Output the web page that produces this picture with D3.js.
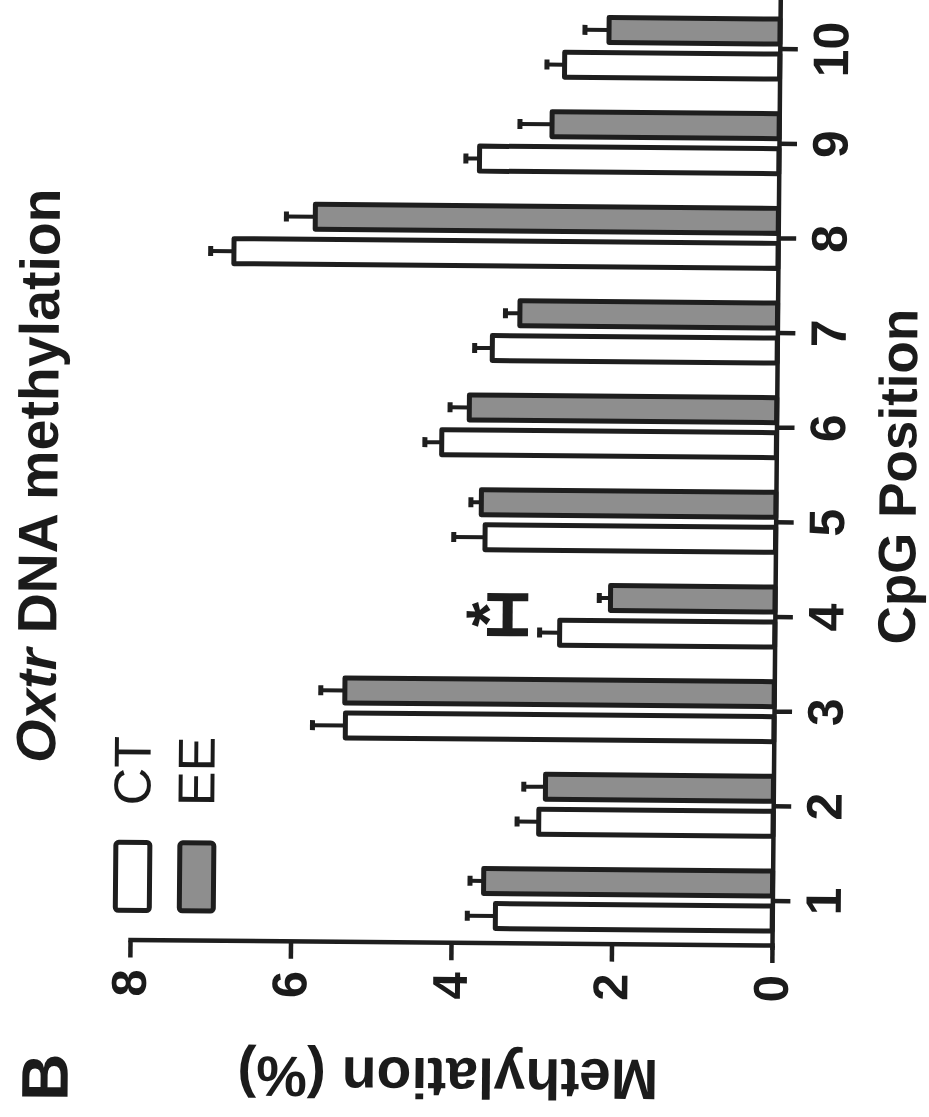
<!DOCTYPE html>
<html lang="en">
<meta charset="UTF-8">
<meta name="viewport" content="width=device-width,initial-scale=1">

<!-- Load d3.js -->
<script src="https://d3js.org/d3.v7.min.js"></script>

<head>
    <title>Oxtr DNA methylation</title>
    <style>
        body { margin: 0; background-color: white; }
        svg { display: block; }
        text { font-family: "Liberation Sans", Arial, Helvetica, sans-serif; fill: #1b1b1b; }
    </style>
</head>
<body>

<div id="my_dataviz"></div>

<script>
    // CpG positions on the category axis
    const positions = ["1", "2", "3", "4", "5", "6", "7", "8", "9", "10"];
    const groups = ["CT", "EE"];

    // methylation (%) mean and SEM
    const ctMean = [3.45, 2.92, 5.34, 2.68, 3.62, 4.17, 3.55, 6.78, 3.73, 2.68];
    const ctSem  = [0.35, 0.27, 0.41, 0.25, 0.39, 0.21, 0.22, 0.29, 0.17, 0.22];
    const eeMean = [3.60, 2.84, 5.35, 2.05, 3.67, 3.83, 3.21, 5.77, 2.83, 2.13];
    const eeSem  = [0.17, 0.27, 0.30, 0.14, 0.13, 0.24, 0.18, 0.36, 0.40, 0.30];

    const yTicks = [0, 2, 4, 6, 8];

    // significance mark: position and the level of the bracket
    const sigPositions = ["4"];
    const sigLevel = [3.33];

    const width = 929, height = 1117;

    const svg = d3.select("#my_dataviz")
    .append("svg")
        .attr("width", width)
        .attr("height", height);

    svg.append("rect").attr("width", width).attr("height", height).attr("fill", "white");

    // the panel is printed on its side (and the scan is a little skewed),
    // so the chart is drawn upright in "page" and turned by -90 degrees
    const page = svg.append("g")
        .attr("transform", "rotate(0.5,771,946)")
    .append("g")
        .attr("transform", `translate(0,${height}) rotate(-90)`);

    const ink = "#1e1e1e";

    // scales (page coords: 1117 wide, 929 tall)
    const x = d3.scaleBand()
        .domain(positions)
        .range([168.7, 1115.3]);

    const xSub = d3.scaleBand()
        .domain(groups)
        .range([-32.5, 32.5])
        .paddingInner(1 / 7);

    const y = d3.scaleLinear()
        .domain([0, 8])
        .range([772, 130]);

    const color = d3.scaleOrdinal()
        .domain(groups)
        .range(["#ffffff", "#8e8e8e"]);

    const rows = [];
    positions.forEach(function(p, i) {
        rows.push({pos: p, group: "CT", mean: ctMean[i], sem: ctSem[i]});
        rows.push({pos: p, group: "EE", mean: eeMean[i], sem: eeSem[i]});
    });

    const cx = d => x(d.pos) + x.bandwidth() / 2 + xSub(d.group) + xSub.bandwidth() / 2;

    // error bars (upper only)
    page.selectAll("line.stem")
    .data(rows)
    .join("line")
        .attr("class", "stem")
        .attr("x1", cx).attr("x2", cx)
        .attr("y1", d => y(d.mean))
        .attr("y2", d => y(d.mean + d.sem))
        .attr("stroke", ink)
        .attr("stroke-width", 4);

    page.selectAll("line.cap")
    .data(rows)
    .join("line")
        .attr("class", "cap")
        .attr("x1", d => cx(d) - 5).attr("x2", d => cx(d) + 5)
        .attr("y1", d => y(d.mean + d.sem))
        .attr("y2", d => y(d.mean + d.sem))
        .attr("stroke", ink)
        .attr("stroke-width", 5);

    // bars
    const sw = 5;
    page.selectAll("rect.bar")
    .data(rows)
    .join("rect")
        .attr("class", "bar")
        .attr("x", d => x(d.pos) + x.bandwidth() / 2 + xSub(d.group) + sw / 2)
        .attr("width", xSub.bandwidth() - sw)
        .attr("y", d => y(d.mean))
        .attr("height", d => y(0) - y(d.mean))
        .attr("fill", d => color(d.group))
        .attr("stroke", ink)
        .attr("stroke-width", sw)
        .attr("stroke-linejoin", "round");

    // axes
    const xAxis = page.append("g")
        .attr("transform", `translate(0,${y(0)})`)
        .call(d3.axisBottom(x).tickSize(18).tickSizeOuter(0).tickPadding(15));

    const yAxis = page.append("g")
        .attr("transform", "translate(171,0)")
        .call(d3.axisLeft(y).tickValues(yTicks).tickSize(17).tickSizeOuter(0).tickPadding(12));

    [xAxis, yAxis].forEach(function(a) {
        a.attr("font-family", null).attr("font-size", null);
        a.select(".domain").attr("stroke", ink).attr("stroke-width", 4.5).attr("stroke-linecap", "square");
        a.selectAll(".tick line").attr("stroke", ink).attr("stroke-width", 4.5);
        a.selectAll(".tick text")
            .style("font-size", "50px")
            .style("font-weight", "bold")
            .attr("fill", "#1b1b1b");
    });
    yAxis.selectAll(".tick text").style("font-size", "49px");

    // significance bracket and star
    sigPositions.forEach(function(p, i) {
        const a = x(p) + x.bandwidth() / 2 + xSub("CT") + xSub.bandwidth() / 2;
        const b = x(p) + x.bandwidth() / 2 + xSub("EE") + xSub.bandwidth() / 2;
        const s = y(sigLevel[i]);
        page.append("path")
            .attr("d", `M${a},${s - 20.5}V${s + 20.5}M${b},${s - 20.5}V${s + 20.5}`)
            .attr("stroke", ink).attr("stroke-width", 8).attr("fill", "none");
        page.append("line")
            .attr("x1", a).attr("x2", b)
            .attr("y1", s).attr("y2", s)
            .attr("stroke", ink).attr("stroke-width", 10);
        page.append("text")
            .attr("x", (a + b) / 2)
            .attr("y", s + 3)
            .attr("text-anchor", "middle")
            .style("font-size", "64px")
            .style("font-weight", "bold")
            .text("*");
    });

    // legend
    const legend = page.selectAll("g.legend")
    .data(groups)
    .join("g")
        .attr("class", "legend")
        .attr("transform", (d, i) => `translate(0,${i * 64})`);

    legend.append("rect")
        .attr("x", 201).attr("y", 115)
        .attr("width", 68).attr("height", 34)
        .attr("rx", 3)
        .attr("fill", d => color(d))
        .attr("stroke", ink)
        .attr("stroke-width", 5);

    legend.append("text")
        .attr("x", 306).attr("y", 149)
        .style("font-size", "52px")
        .text(d => d);

    // titles
    const title = page.append("text")
        .attr("x", 635).attr("y", 53.5)
        .attr("text-anchor", "middle")
        .style("font-size", "55.5px")
        .style("font-weight", "bold");
    title.append("tspan").style("font-style", "italic").text("Oxtr");
    title.append("tspan").text(" DNA methylation");

    page.append("text")
        .attr("x", 641.5).attr("y", 912)
        .attr("text-anchor", "middle")
        .style("font-size", "53px")
        .style("font-weight", "bold")
        .text("CpG Position");

    page.append("text")
        .attr("transform", "translate(56,449) rotate(-90)")
        .attr("text-anchor", "middle")
        .style("font-size", "57px")
        .style("font-weight", "bold")
        .text("Methylation (%)");

    page.append("text")
        .attr("x", 9.5).attr("y", 69)
        .style("font-size", "66px")
        .style("font-weight", "bold")
        .text("B");
</script>

</body>
</html>
